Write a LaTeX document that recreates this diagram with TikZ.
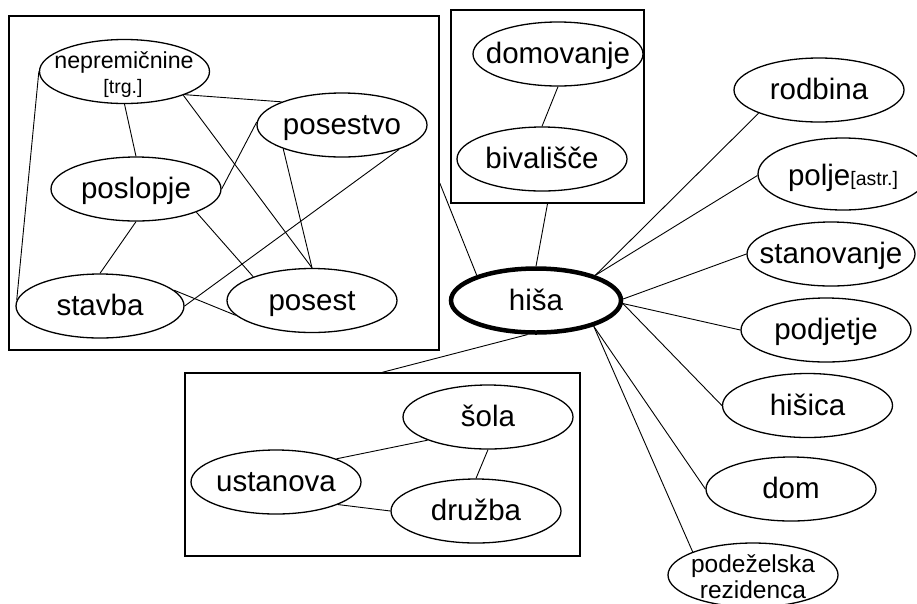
\documentclass[tikz,border=0pt]{standalone}
\usepackage{fontspec}
\setmainfont{Liberation Sans}
\usetikzlibrary{shapes.geometric}
\begin{document}
\begin{tikzpicture}[x=1pt,y=-1pt,
  nd/.style={ellipse, draw, line width=1.3pt, minimum width=170pt, minimum height=64pt,
    inner xsep=-30pt, inner ysep=-10pt, text height=24pt, text depth=5pt,
    font=\fontsize{29.5}{32}\selectfont},
  hub/.style={nd, line width=4.5pt, minimum width=170pt, minimum height=64pt},
  grp/.style={rectangle, draw, line width=1.5pt, inner sep=0pt},
  edge/.style={draw, line width=0.9pt},
  txt/.style={anchor=base, inner sep=0pt}
]
\fill[white] (0,0) rectangle (917,603);
\useasboundingbox (0,0) rectangle (917,603);

% group boxes
\node[grp, minimum width=430pt, minimum height=334pt] (leftbox) at (224,183) {};
\node[grp, minimum width=193pt, minimum height=193pt] (topbox) at (547.5,106.5) {};
\node[grp, minimum width=395pt, minimum height=183pt] (botbox) at (382.5,464.5) {};

% left group
\node[nd] (nep) at (124.5,71.5) {};
\node[txt, font=\fontsize{23.2}{25}\selectfont] (nepa) at (124,68) {nepremičnine};
\node[txt, font=\fontsize{19.5}{21}\selectfont] (nepb) at (123,93) {[trg.]};
\node[nd] (posestvo) at (342,125) {posestvo};
\node[nd] (poslopje) at (136,189) {poslopje};
\node[nd, minimum width=168pt] (stavba) at (100,306) {stavba};
\node[nd] (posest) at (312,300.5) {posest};

% top group
\node[nd] (domovanje) at (558,54) {domovanje};
\node[nd] (bivalisce) at (542,159) {bivališče};

% hub
\node[hub] (hisa) at (536,300.5) {hiša};

% right nodes
\node[nd] (rodbina) at (819,90) {rodbina};
\node[nd, minimum height=72pt, text height=26pt, text depth=4pt] (polje) at (843,174) {polje{\fontsize{19.5}{21}\selectfont[astr.]}};
\node[nd, minimum width=168pt] (stanovanje) at (831,254) {stanovanje};
\node[nd] (podjetje) at (826,330) {podjetje};
\node[nd] (hisica) at (807.5,405.5) {hišica};
\node[nd] (dom) at (791,489) {dom};
\node[nd] (podez) at (753,575) {};
\node[txt, font=\fontsize{24.5}{26}\selectfont] (podeza) at (753,572) {podeželska};
\node[txt, font=\fontsize{24.5}{26}\selectfont] (podezb) at (753,598) {rezidenca};

% bottom group
\node[nd] (sola) at (488,417) {šola};
\node[nd] (ustanova) at (276,482) {ustanova};
\node[nd] (druzba) at (476,511) {družba};

% edges in left group
\draw[edge] (nep.270) -- (poslopje.90);
\draw[edge] (nep.-21) -- (posestvo.159);
\draw[edge] (nep.-22) -- (posest.90);
\draw[edge] (nep.180) -- (stavba.176);
\draw[edge] (posestvo.178) -- (poslopje.0);
\draw[edge] (posestvo.202) -- (posest.90);
\draw[edge] (posestvo.-23) -- (stavba.0);
\draw[edge] (poslopje.270) -- (stavba.90);
\draw[edge] (poslopje.-21) -- (posest.158);
\draw[edge] (stavba.12) -- (posest.191);

% top group
\draw[edge] (domovanje.270) -- (bivalisce.90);

% bottom group
\draw[edge] (ustanova.21) -- (sola.201);
\draw[edge] (ustanova.-20) -- (druzba.180);
\draw[edge] (sola.270) -- (druzba.90);

% hub edges
\draw[edge] (leftbox.east) -- (hisa.157);
\draw[edge] (topbox.south) -- (hisa.90);
\draw[edge] (botbox.north) -- (hisa.256);
\draw[edge] (hisa.23) -- (rodbina.201);
\draw[edge] (hisa.23) -- (polje.181);
\draw[edge] (hisa.1) -- (stanovanje.180);
\draw[edge] (hisa.-2) -- (podjetje.180);
\draw[edge] (hisa.-2) -- (hisica.180);
\draw[edge] (hisa.-24) -- (dom.180);
\draw[edge] (hisa.-24) -- (podez.159);
\end{tikzpicture}
\end{document}
